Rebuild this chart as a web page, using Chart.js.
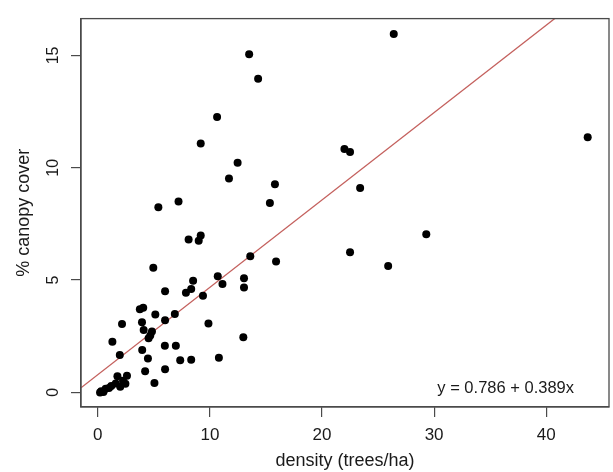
<!DOCTYPE html>
<html><head><meta charset="utf-8">
<script src="https://cdn.jsdelivr.net/npm/chart.js@4"></script>
<style>html,body{margin:0;padding:0;background:#fff}#wrap{width:613px;height:472px}</style>
</head><body><div id="wrap"><canvas id="c" width="613" height="472"></canvas></div>
<script>
// density (trees/ha)
const densityX = [26.4,13.5,14.3,10.64,9.18,12.47,11.7,15.8,22.0,22.5,23.4,15.35,7.2,5.4,8.1,9.18,9.0,13.6,15.9,22.5,25.9,29.3,43.7,
  4.95,6.0,8.5,8.33,7.86,10.7,11.12,13.04,13.04,9.38,3.75,4.05,5.13,6.87,6.0,3.94,2.16,4.09,4.83,4.68,4.53,9.87,5.98,6.96,3.96,
  1.3,1.96,4.47,7.35,8.33,10.8,12.98,4.22,6.0,5.05,2.6,1.75,2.25,2.0,1.6,1.2,0.7,0.3,0.2,0.5,2.46,1.0];
// % canopy cover
const canopyY = [15.95,15.05,13.96,12.26,11.08,10.22,9.52,9.27,10.83,10.7,9.1,8.43,8.5,8.24,6.81,6.99,6.75,6.06,5.83,6.24,5.63,7.04,11.36,
  5.55,4.5,4.97,4.6,4.44,5.17,4.82,5.08,4.67,4.3,3.7,3.77,3.47,3.49,3.21,3.12,3.04,2.78,2.71,2.53,2.41,3.07,2.08,2.08,1.89,
  2.26,1.66,1.51,1.43,1.45,1.54,2.46,0.94,1.03,0.42,0.74,0.72,0.52,0.25,0.4,0.28,0.16,0.05,0.0,0.02,0.38,0.2];
const xTicks = [0, 10, 20, 30, 40];
const yTicks = [0, 5, 10, 15];
const xRange = [-1.5, 45.6];
const yRange = [-0.65, 16.64];
const fitIntercept = 0.786;
const fitSlope = 0.389;
const eqLabel = 'y = 0.786 + 0.389x';
const xTitle = 'density (trees/ha)';
const yTitle = '% canopy cover';

const FAMILY = '"Liberation Sans", Arial, Helvetica, sans-serif';
const INK = '#1a1a1a';
const AXIS = '#4a4a4a';

const points = densityX.map((x, i) => ({x: x, y: canopyY[i]}));
const fitLine = xRange.map(x => ({x: x, y: fitIntercept + fitSlope * x}));

const boxPlugin = {
  id: 'box',
  afterDatasetsDraw(chart) {
    const {ctx, chartArea: a} = chart;
    ctx.save();
    ctx.strokeStyle = AXIS; ctx.lineWidth = 1.3;
    ctx.strokeRect(a.left, a.top, a.right - a.left, a.bottom - a.top);
    ctx.fillStyle = INK;
    ctx.font = '16.5px ' + FAMILY;
    ctx.textAlign = 'right'; ctx.textBaseline = 'middle';
    ctx.fillText(eqLabel, a.right - 35, a.bottom - 19);
    ctx.restore();
  }
};

new Chart(document.getElementById('c'), {
  data: {
    datasets: [
      {type: 'scatter', data: points, pointRadius: 4, pointBorderWidth: 0,
       pointBackgroundColor: '#000', pointBorderColor: '#000', pointHoverRadius: 4},
      {type: 'line', data: fitLine, borderColor: '#c4615e', borderWidth: 1.3, pointRadius: 0, fill: false, tension: 0}
    ]
  },
  options: {
    responsive: false, animation: false, devicePixelRatio: 1,
    layout: {padding: {top: 11, right: 4, left: 0, bottom: 0}},
    plugins: {legend: {display: false}, tooltip: {enabled: false}},
    scales: {
      x: {
        type: 'linear', min: xRange[0], max: xRange[1],
        afterBuildTicks: s => { s.ticks = xTicks.map(v => ({value: v})); },
        afterFit: s => { s.height = 65; },
        grid: {drawOnChartArea: false, drawTicks: true, tickLength: 10, color: AXIS, lineWidth: 1.2},
        border: {display: true, color: AXIS, width: 1.3},
        ticks: {padding: 8, color: INK, font: {family: FAMILY, size: 17}, maxRotation: 0, minRotation: 0},
        title: {display: true, text: xTitle, color: INK, font: {family: FAMILY, size: 18}, padding: {top: 0, bottom: 0}}
      },
      y: {
        type: 'linear', min: yRange[0], max: yRange[1],
        afterBuildTicks: s => { s.ticks = yTicks.map(v => ({value: v})); },
        afterFit: s => { s.width = 81; },
        grid: {drawOnChartArea: false, drawTicks: true, tickLength: 10, color: AXIS, lineWidth: 1.2},
        border: {display: true, color: AXIS, width: 1.3},
        ticks: {padding: 9, color: INK, font: {family: FAMILY, size: 16}, minRotation: 90, maxRotation: 90, crossAlign: 'center'},
        title: {display: true, text: yTitle, color: INK, font: {family: FAMILY, size: 18}, padding: {top: 13, bottom: 0}}
      }
    }
  },
  plugins: [boxPlugin]
});
</script></body></html>
